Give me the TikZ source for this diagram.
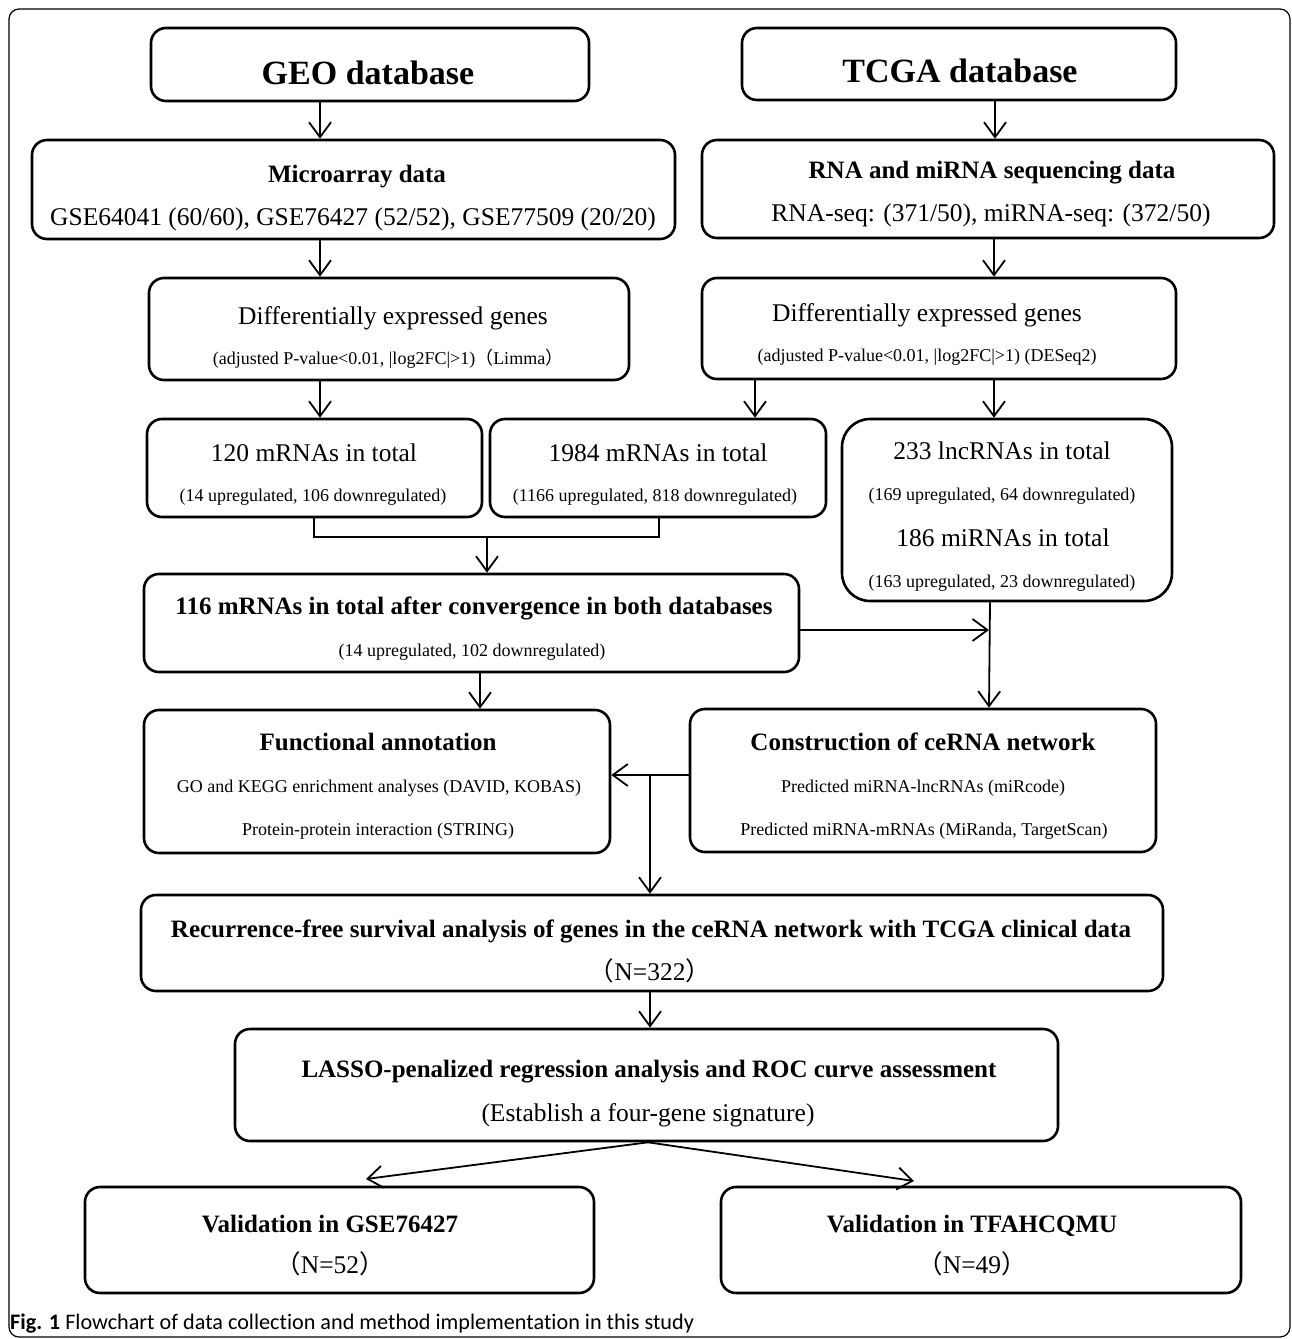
\documentclass[tikz,border=0pt]{standalone}
\usepackage{fontspec}
\setmainfont{Liberation Serif}
\newfontfamily\capfont[Ligatures=NoCommon]{Carlito}
\newfontfamily\cjkfont{Noto Sans CJK SC}
\usetikzlibrary{arrows.meta,calc}
\newcommand\lp{{\cjkfont （}}
\newcommand\rp{{\cjkfont ）}}
\tikzset{
  box/.style={draw, line width=2.6pt, rounded corners=15pt, inner sep=0pt},
  conn/.style={line width=1.8pt},
  arr/.style={conn, -{Straight Barb[length=15pt,width=22pt,line width=1.8pt]}},
  ttl/.style={font=\fontsize{34}{40}\selectfont\bfseries, inner sep=0pt, anchor=base},
  hd/.style={font=\fontsize{25}{30}\selectfont\bfseries, inner sep=0pt, anchor=base},
  tx/.style={font=\fontsize{25.5}{30}\selectfont, inner sep=0pt, anchor=base},
  sm/.style={font=\fontsize{18}{22}\selectfont, inner sep=0pt, anchor=base},
}
\newcommand\mkbox[6][]{\node[box,#1,minimum width={#5pt-#3pt},minimum height={#6pt-#4pt}] (#2) at ({(#3+#5)/2},{(#4+#6)/2}) {};}
\begin{document}
\begin{tikzpicture}[x=1pt,y=-1pt]
\useasboundingbox (0,0) rectangle (1292,1339);
\draw[line width=1.2pt, rounded corners=10pt] (9,9) rectangle (1290,1337);
% boxes
\mkbox{geo}{151}{28}{589}{101}
\mkbox{tcga}{742}{28}{1176}{100}
\mkbox{micro}{32}{140}{675}{239}
\mkbox{rna}{702}{140}{1274}{238}
\mkbox{deg1}{149}{278}{629}{380}
\mkbox{deg2}{702}{278}{1176}{379}
\mkbox{mA}{147}{419}{482}{517}
\mkbox{mB}{490}{419}{826}{517}
\mkbox[rounded corners=28pt]{lnc}{842}{419}{1172}{601}
\mkbox{mC}{144}{574}{799}{672}
\mkbox{func}{144}{710}{610}{853}
\mkbox{ce}{690}{709}{1156}{852}
\mkbox{rec}{141}{895}{1163}{991}
\mkbox{lasso}{235}{1029}{1058}{1141}
\mkbox{valA}{85}{1187}{594}{1293}
\mkbox{valB}{721}{1187}{1241}{1293}
% texts
\node[ttl] (t1) at (368,84) {GEO database};
\node[ttl] (t2) at (960,82) {TCGA database};
\node[hd] (t3) at (357,182) {Microarray data};
\node[tx] (t4) at (353,225) {GSE64041 (60/60), GSE76427 (52/52), GSE77509 (20/20)};
\node[hd] (t5) at (992,178) {RNA and miRNA sequencing data};
\node[tx] (t6) at (991,221) {RNA-seq: (371/50), miRNA-seq: (372/50)};
\node[tx] (t7) at (393,324) {Differentially expressed genes};
\node[sm] (t8) at (388,364) {(adjusted P-value<0.01, |log2FC|>1)\lp Limma\rp};
\node[tx] (t9) at (927,321) {Differentially expressed genes};
\node[sm] (t10) at (927,361) {(adjusted P-value<0.01, |log2FC|>1) (DESeq2)};
\node[tx] (t11) at (314,461) {120 mRNAs in total};
\node[sm] (t12) at (313,501) {(14 upregulated, 106 downregulated)};
\node[tx] (t13) at (658,461) {1984 mRNAs in total};
\node[sm] (t14) at (655,501) {(1166 upregulated, 818 downregulated)};
\node[tx] (t15) at (1002,459) {233 lncRNAs in total};
\node[sm] (t16) at (1002,500) {(169 upregulated, 64 downregulated)};
\node[tx] (t17) at (1003,546) {186 miRNAs in total};
\node[sm] (t18) at (1002,587) {(163 upregulated, 23 downregulated)};
\node[hd] (t19) at (474,614) {116 mRNAs in total after convergence in both databases};
\node[sm] (t20) at (472,656) {(14 upregulated, 102 downregulated)};
\node[hd] (t21) at (378,750) {Functional annotation};
\node[sm] (t22) at (379,792) {GO and KEGG enrichment analyses (DAVID, KOBAS)};
\node[sm] (t23) at (378,835) {Protein-protein interaction (STRING)};
\node[hd] (t24) at (923,750) {Construction of ceRNA network};
\node[sm] (t25) at (923,792) {Predicted miRNA-lncRNAs (miRcode)};
\node[sm] (t26) at (924,835) {Predicted miRNA-mRNAs (MiRanda, TargetScan)};
\node[hd] (t27) at (651,937) {Recurrence-free survival analysis of genes in the ceRNA network with TCGA clinical data};
\node[tx] (t28) at (650,980) {\lp N=322\rp};
\node[hd] (t29) at (649,1077) {LASSO-penalized regression analysis and ROC curve assessment};
\node[tx] (t30) at (648,1121) {(Establish a four-gene signature)};
\node[hd] (t31) at (330,1232) {Validation in GSE76427};
\node[tx] (t32) at (330,1273) {\lp N=52\rp};
\node[hd] (t33) at (972,1232) {Validation in TFAHCQMU};
\node[tx] (t34) at (972,1273) {\lp N=49\rp};
\node[font=\capfont\fontsize{22.2}{26}\selectfont, inner sep=0pt, anchor=base west] (cap) at (10,1329) {\textbf{Fig. 1} Flowchart of data collection and method implementation in this study};
% connectors
\draw[arr] (geo.south -| 320,0) -- (micro.north -| 320,0);
\draw[arr] (tcga.south -| 995,0) -- (rna.north -| 995,0);
\draw[arr] (micro.south -| 320,0) -- (deg1.north -| 320,0);
\draw[arr] (rna.south -| 994,0) -- (deg2.north -| 994,0);
\draw[arr] (deg1.south -| 320,0) -- (mA.north -| 320,0);
\draw[arr] (deg2.south -| 755,0) -- (mB.north -| 755,0);
\draw[arr] (deg2.south -| 994,0) -- (lnc.north -| 994,0);
\coordinate (mj) at (487,537);
\draw[conn] (mA.south -| 314,0) |- (mj) -| (mB.south -| 659,0);
\draw[arr] (mj) -- (mC.north -| mj);
\coordinate (rj) at (989,630);
\draw[arr] (mC.east |- rj) -- (rj);
\draw[arr] (lnc.south -| 990,0) -- (ce.north -| 989,0);
\draw[arr] (mC.south -| 480,0) -- (func.north -| 480,0);
\coordinate (cj) at (650,775);
\draw[arr] (ce.west |- cj) -- (func.east |- cj);
\draw[arr] (cj) -- (rec.north -| cj);
\draw[arr] (rec.south -| 650,0) -- (lasso.north -| 650,0);
\coordinate (lj) at (lasso.south -| 648,0);
\coordinate (vA) at (366,1179);
\coordinate (vB) at (914,1181);
\draw[arr] (lj) -- (vA);
\draw[arr] (lj) -- (vB);
\end{tikzpicture}
\end{document}
